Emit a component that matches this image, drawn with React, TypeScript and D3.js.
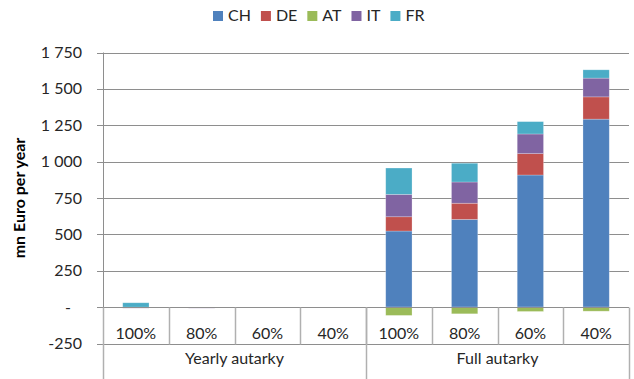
import React, { useEffect, useRef } from 'react';
import * as d3 from 'd3';

const groups = ['Yearly autarky', 'Full autarky'];
const levels = ['100%', '80%', '60%', '40%'];
const seriesNames = ['CH', 'DE', 'AT', 'IT', 'FR'];
const seriesColors = ['#4F81BD', '#C0504D', '#9BBB59', '#8064A2', '#4BACC6'];
const CH = [0, 0, 0, 0, 523, 603, 908, 1292];
const DE = [0, 0, 0, 0, 98, 111, 147, 153];
const AT = [0, 0, 0, 0, -57, -46, -30, -28];
const IT = [-7, -7, 0, 0, 154, 146, 135, 129];
const FR = [30, 0, -6, 0, 181, 129, 85, 57];
const yTicks = [-250, 0, 250, 500, 750, 1000, 1250, 1500, 1750];
const yTitle = 'mn Euro per year';

const W = 634;
const H = 379;
const FONT = 'Lato, "Open Sans", sans-serif';
const FS = 16;

export default function App() {
  const ref = useRef<SVGSVGElement>(null);

  useEffect(() => {
    const svg = d3.select(ref.current);
    svg.selectAll('*').remove();

    const values = [CH, DE, AT, IT, FR];
    const cats: string[] = [];
    groups.forEach((g) => levels.forEach((l) => cats.push(g + '|' + l)));
    const rows = cats.map((c, i) => {
      const r: any = { cat: c };
      seriesNames.forEach((s, k) => (r[s] = values[k][i]));
      return r;
    });

    const x0 = 103, x1 = 629;
    const x = d3.scaleBand<string>().domain(cats).range([x0, x1]).paddingInner(0).paddingOuter(0);
    const y = d3.scaleLinear().domain([-250, 1750]).range([343.5, 52.5]);
    const barW = x.bandwidth() * 0.4;

    // gridlines
    svg.append('g').selectAll('line').data(yTicks).join('line')
      .attr('x1', x0).attr('x2', x1)
      .attr('y1', (d) => Math.round(y(d)) + 0.5).attr('y2', (d) => Math.round(y(d)) + 0.5)
      .attr('stroke', '#8e8e8e').attr('stroke-width', 1);

    // bars
    const stack = d3.stack<any>().keys(seriesNames).offset(d3.stackOffsetDiverging);
    const layers = stack(rows);
    svg.append('g').selectAll('g').data(layers).join('g')
      .attr('fill', (d, i) => seriesColors[i])
      .selectAll('rect').data((d) => d).join('rect')
      .attr('x', (d: any) => (x(d.data.cat) as number) + (x.bandwidth() - barW) / 2)
      .attr('width', barW)
      .attr('y', (d: any) => y(Math.max(d[0], d[1])))
      .attr('height', (d: any) => Math.abs(y(d[0]) - y(d[1])))
      .attr('stroke', 'rgba(255,255,255,0.35)')
      .attr('stroke-width', 0.7);

    // y axis line
    svg.append('line').attr('x1', x0 + 0.5).attr('x2', x0 + 0.5)
      .attr('y1', y(1750)).attr('y2', H).attr('stroke', '#8e8e8e');
    // y ticks
    svg.append('g').selectAll('line').data(yTicks).join('line')
      .attr('x1', x0 - 6).attr('x2', x0)
      .attr('y1', (d) => Math.round(y(d)) + 0.5).attr('y2', (d) => Math.round(y(d)) + 0.5)
      .attr('stroke', '#8e8e8e');
    const loc = d3.formatLocale({ decimal: '.', thousands: '\u00a0', grouping: [3], currency: ['', ''], minus: '-' });
    const fmt = loc.format(',');
    svg.append('g').selectAll('text').data(yTicks).join('text')
      .attr('x', 82).attr('y', (d) => y(d)).attr('dy', '0.35em')
      .attr('dx', (d) => (d === 0 ? -11 : 0))
      .attr('text-anchor', 'end')
      .attr('font-family', FONT).attr('font-size', FS).attr('fill', '#262626')
      .text((d) => (d === 0 ? '-' : fmt(d)));

    // y title
    svg.append('text')
      .attr('transform', `translate(25,${(y(1750) + y(-250)) / 2}) rotate(-90)`)
      .attr('text-anchor', 'middle')
      .attr('font-family', FONT).attr('font-size', FS).attr('font-weight', 'bold').attr('fill', '#000')
      .text(yTitle);

    // category axis
    const yAxis = Math.round(y(0)) + 0.5;
    svg.append('line').attr('x1', x0).attr('x2', x1).attr('y1', yAxis).attr('y2', yAxis).attr('stroke', '#8e8e8e');
    const rowSplit = Math.round(y(-250)) + 0.5;
    // inner separators
    svg.append('g').selectAll('line').data(cats.slice(1)).join('line')
      .attr('x1', (d) => Math.round(x(d) as number) + 0.5).attr('x2', (d) => Math.round(x(d) as number) + 0.5)
      .attr('y1', yAxis).attr('y2', rowSplit)
      .attr('stroke', '#b0b0b0').attr('stroke-width', 1.5);
    // outer separators
    const groupEdges = [x0, x(groups[1] + '|' + levels[0]) as number, x1];
    svg.append('g').selectAll('line').data(groupEdges).join('line')
      .attr('x1', (d) => Math.round(d) + 0.5).attr('x2', (d) => Math.round(d) + 0.5)
      .attr('y1', yAxis).attr('y2', H)
      .attr('stroke', '#b0b0b0').attr('stroke-width', 1.5);
    // category labels
    svg.append('g').selectAll('text').data(cats).join('text')
      .attr('x', (d) => (x(d) as number) + x.bandwidth() / 2)
      .attr('y', 338.5)
      .attr('text-anchor', 'middle')
      .attr('font-family', FONT).attr('font-size', FS).attr('fill', '#262626')
      .text((d) => d.split('|')[1]);
    // group labels
    svg.append('g').selectAll('text').data(groups).join('text')
      .attr('x', (g) => (x(g + '|' + levels[0]) as number) + x.bandwidth() * levels.length / 2)
      .attr('y', 363.5)
      .attr('text-anchor', 'middle')
      .attr('font-family', FONT).attr('font-size', FS).attr('fill', '#262626')
      .text((g) => g);

    // legend
    const leg = svg.append('g');
    let lx = 213;
    seriesNames.forEach((s, i) => {
      leg.append('rect').attr('x', lx).attr('y', 11).attr('width', 10).attr('height', 10).attr('fill', seriesColors[i]);
      const t = leg.append('text').attr('x', lx + 15).attr('y', 21)
        .attr('font-family', FONT).attr('font-size', FS).attr('fill', '#262626').text(s);
      const w = (t.node() as SVGTextElement).getComputedTextLength();
      lx += 15 + w + 10;
    });
  }, []);

  return (
    <svg ref={ref} width={W} height={H}
      style={{ position: 'absolute', left: 0, top: 0, background: '#fff' }} />
  );
}
